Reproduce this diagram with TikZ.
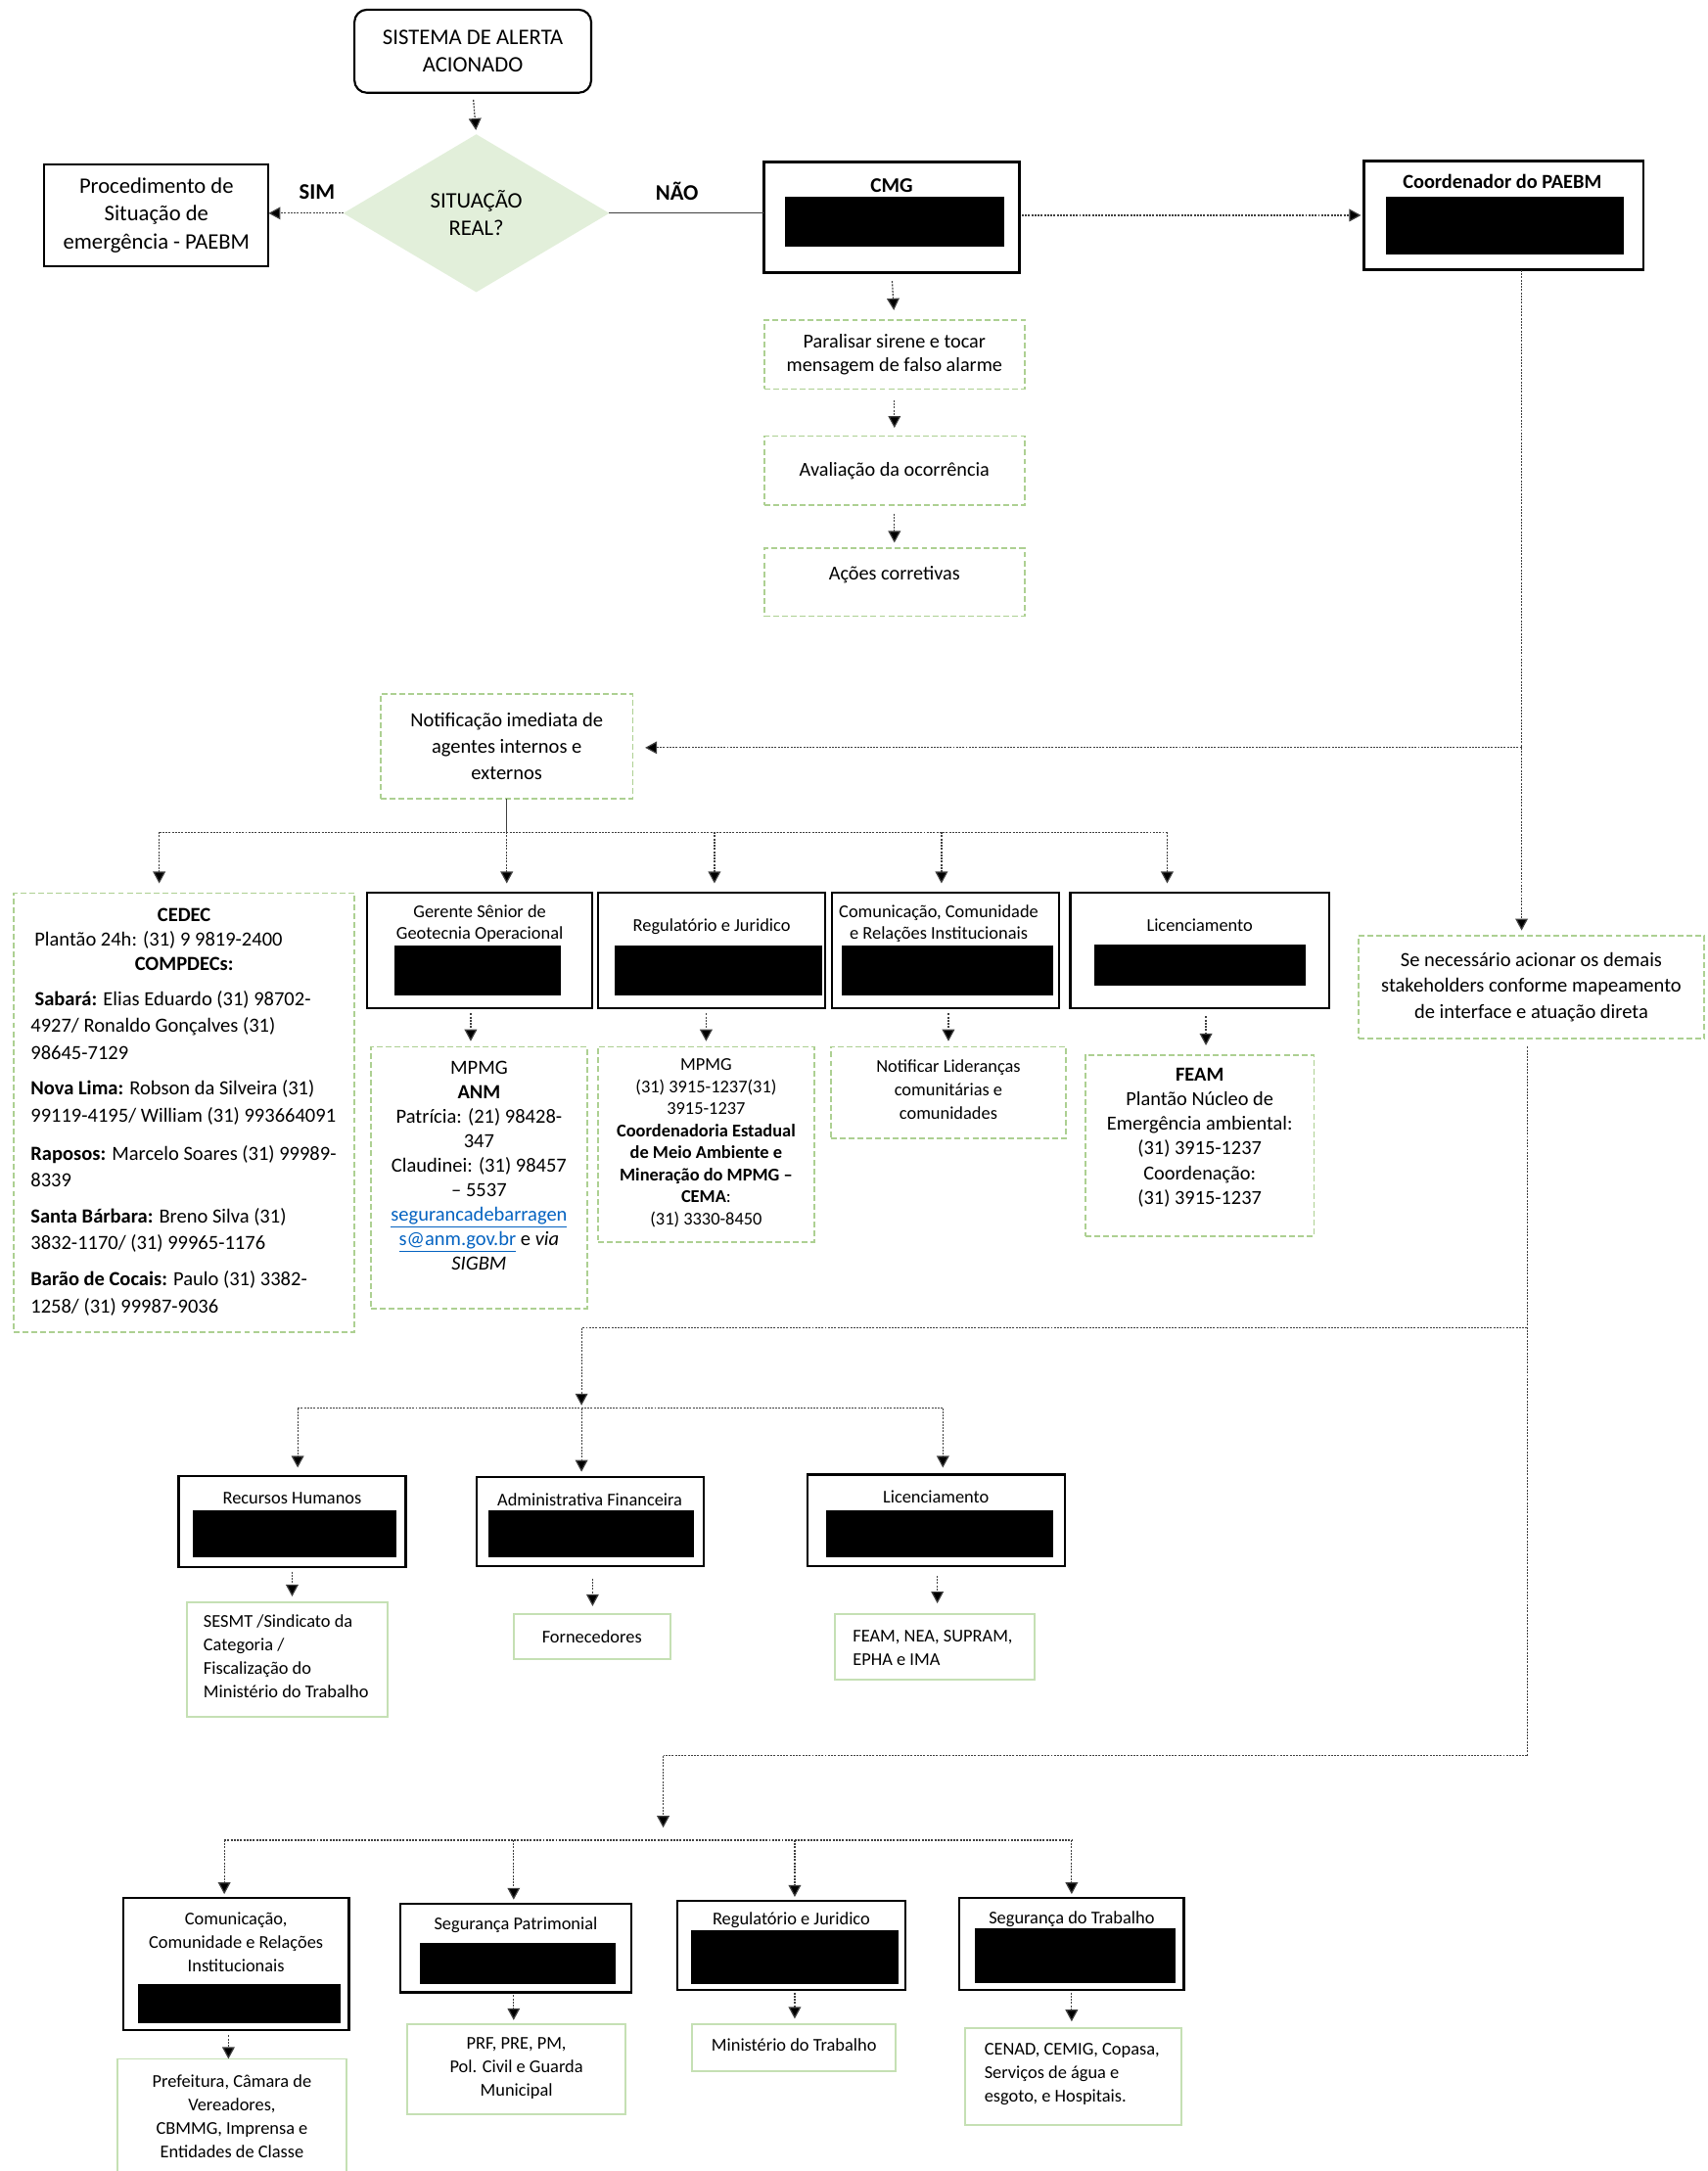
\documentclass[tikz,border=0pt]{standalone}
\usepackage{fontspec}
\setmainfont{Carlito}
\usetikzlibrary{arrows.meta,shapes.geometric,calc}
\definecolor{gdash}{HTML}{ADD092}
\definecolor{gsol}{HTML}{C5E0B4}
\definecolor{dfill}{HTML}{E2EFDA}
\definecolor{linkblue}{HTML}{0563C1}
\definecolor{conncol}{HTML}{404040}
\newcommand{\fsz}[2]{\fontsize{#1}{#2}\selectfont}
\begin{document}
\begin{tikzpicture}[x=1pt,y=-1pt,
 every node/.style={inner sep=0pt, outer sep=0pt},
 blk/.style={draw=black, line width=1.5pt},
 blkthick/.style={draw=black, line width=2pt},
 gbox/.style={draw=gdash, line width=1.2pt, dash pattern=on 4.2pt off 2.2pt},
 gsbox/.style={draw=gsol, line width=1.3pt},
 redact/.style={fill=black},
 tA/.style={align=center, font=\fsz{16}{20}},
 tB/.style={align=center, font=\fsz{14.5}{19}},
 tC/.style={align=center, font=\fsz{13}{17}},
 tL/.style={align=left, anchor=west, font=\fsz{13}{17}},
 conn/.style={draw=conncol, line width=0.85pt, dash pattern=on 1.4pt off 0.9pt},
 arr/.style={conn, -{Triangle[length=8.5pt,width=9pt,fill=black]}},
]
\useasboundingbox (0,0) rectangle (1233,1568);

% ---------- top ----------
\node[blk, rounded corners=9pt, minimum width=171pt, minimum height=60pt, tA] (sis) at (341.5,37) {SISTEMA DE ALERTA\\ACIONADO};
\node[diamond, fill=dfill, minimum width=192pt, minimum height=114pt, tA] (dia) at (344,154) {SITUAÇÃO\\REAL?};
\node[blk, minimum width=162pt, minimum height=73pt, tA] (proc) at (113,155.5) {Procedimento de\\Situação de\\emergência - PAEBM};
\node[font=\fsz{16}{20}\bfseries] (sim) at (229,139) {SIM};
\node[font=\fsz{16}{20}\bfseries] (nao) at (489,138) {NÃO};

\node[blkthick, minimum width=184pt, minimum height=80pt] (cmg) at (644,157) {};
\node[font=\fsz{15}{18}\bfseries] (cmgt) at (644,134) {CMG};
\node[redact, minimum width=158pt, minimum height=36pt] (cmgr) at (646,160) {};

\node[blkthick, minimum width=202pt, minimum height=79pt] (coord) at (1086,155.5) {};
\node[font=\fsz{14.4}{18}\bfseries] (coordt) at (1085,131) {Coordenador do PAEBM};
\node[redact, minimum width=172pt, minimum height=42pt] (coordr) at (1087,163) {};

\node[gbox, minimum width=188pt, minimum height=50pt, font=\fsz{14.3}{17}, align=center] (par) at (646,256) {Paralisar sirene e tocar\\mensagem de falso alarme};
\node[gbox, minimum width=188pt, minimum height=50pt, font=\fsz{14.3}{17}] (ava) at (646,340) {Avaliação da ocorrência};
\node[gbox, minimum width=188pt, minimum height=49pt] (aco) at (646,420.5) {};
\node[font=\fsz{14.3}{17}] (acot) at (646,415) {Ações corretivas};

\draw[arr, shorten <=5pt, shorten >=3pt] (sis.south) -- (dia.north);
\draw[arr] (dia.west) -- (dia.west -| proc.east);
\draw[line width=0.8pt, draw=conncol] (dia.east) -- (dia.east -| cmg.west);
\draw[arr, shorten <=2pt, shorten >=2pt] (cmg.east |- coord.west) -- (coord.west);
\draw[arr, shorten <=6pt, shorten >=7pt] (cmg.south) -- (par.north);
\draw[arr, shorten <=8pt, shorten >=6pt] (par.south) -- (ava.north);
\draw[arr, shorten <=6pt, shorten >=4pt] (ava.south) -- (aco.north);

% ---------- notification ----------
\node[gbox, minimum width=182pt, minimum height=76pt, tB] (notif) at (366,539) {Notificação imediata de\\agentes internos e\\externos};
\node[gbox, minimum width=250pt, minimum height=74pt, tB] (sen) at (1106,713) {Se necessário acionar os demais\\stakeholders conforme mapeamento\\de interface e atuação direta};

\coordinate (c1) at (1099,540);
\draw[conn] (coord.south -| c1) -- (c1);
\draw[arr, shorten >=9pt] (c1) -- (c1 -| notif.east);
\draw[arr, shorten >=4pt] (c1) -- (c1 |- sen.north);

% ---------- middle row ----------
\node[gbox, minimum width=246pt, minimum height=317pt] (cedec) at (133,803.5) {};
\node[font=\fsz{14.5}{17.5}\bfseries] (cedA) at (133,661) {CEDEC};
\node[font=\fsz{14.5}{17.5}, anchor=west] (cedB) at (25,679) {Plantão 24h: (31) 9 9819-2400};
\node[font=\fsz{14.5}{17.5}\bfseries] (cedC) at (133,696) {COMPDECs:};
\begin{scope}[every node/.style={inner sep=0pt, anchor=west, align=left, font=\fsz{14.5}{19.5}}]
\node (cp1) at (22,740.5) {\hspace{3pt}\textbf{Sabará:} Elias Eduardo (31) 98702-\\4927/ Ronaldo Gonçalves (31)\\98645-7129};
\node (cp2) at (22,796.5) {\textbf{Nova Lima:} Robson da Silveira (31)\\99119-4195/ William (31) 993664091};
\node (cp3) at (22,842.5) {\textbf{Raposos:} Marcelo Soares (31) 99989-\\8339};
\node (cp4) at (22,888.5) {\textbf{Santa Bárbara:} Breno Silva (31)\\3832-1170/ (31) 99965-1176};
\node (cp5) at (22,934) {\textbf{Barão de Cocais:} Paulo (31) 3382-\\1258/ (31) 99987-9036};
\end{scope}

\node[blk, minimum width=163pt, minimum height=83pt] (ger) at (346.5,686.5) {};
\node[tC, font=\fsz{13}{16}] (gert) at (346.5,667) {Gerente Sênior de\\Geotecnia Operacional};
\node[redact, minimum width=120pt, minimum height=36pt] (gerr) at (345,701) {};

\node[blk, minimum width=164pt, minimum height=83pt] (reg) at (514,686.5) {};
\node[tC] (regt) at (514,669) {Regulatório e Juridico};
\node[redact, minimum width=150pt, minimum height=36pt] (regr) at (519,701) {};

\node[blk, minimum width=164pt, minimum height=83pt] (com) at (683,686.5) {};
\node[tC, font=\fsz{13}{16}] (comt) at (678,667) {Comunicação, Comunidade\\e Relações Institucionais};
\node[redact, minimum width=153pt, minimum height=36pt] (comr) at (684.5,701) {};

\node[blk, minimum width=187pt, minimum height=83pt] (lic) at (866.5,686.5) {};
\node[tC] (lict) at (866.5,668) {Licenciamento};
\node[redact, minimum width=153pt, minimum height=30pt] (licr) at (866.5,697) {};

\coordinate (n0) at (366,601);
\coordinate (d1) at (115,601);
\coordinate (d3) at (516,601);
\coordinate (d4) at (680,601);
\coordinate (d5) at (843,601);
\draw[line width=0.8pt, draw=conncol] (notif.south) -- (n0);
\draw[conn] (d1) -- (d5);
\draw[arr, shorten >=7pt] (d1) -- (d1 |- cedec.north);
\draw[arr, shorten >=7pt] (n0) -- (n0 |- ger.north);
\draw[arr, shorten >=7pt] (d3) -- (d3 |- reg.north);
\draw[arr, shorten >=7pt] (d4) -- (d4 |- com.north);
\draw[arr, shorten >=7pt] (d5) -- (d5 |- lic.north);

% children of middle row
\node[gbox, minimum width=156pt, minimum height=189pt] (mp) at (346,850.5) {};
\node[tB, font=\fsz{14.5}{17.7}] (mpt) at (346,842) {MPMG\\\textbf{ANM}\\Patrícia: (21) 98428-\\347\\Claudinei: (31) 98457\\– 5537\\{\color{linkblue}\underline{segurancadebarragen}}\\{\color{linkblue}\underline{s@anm.gov.br}} e \textit{via}\\\textit{SIGBM}};

\node[gbox, minimum width=156pt, minimum height=141pt] (rjc) at (510,826.5) {};
\node[tC, font=\fsz{13}{15.9}] (rjct) at (510,825.5) {MPMG\\(31) 3915-1237(31)\\3915-1237\\\textbf{Coordenadoria Estadual}\\\textbf{de Meio Ambiente e}\\\textbf{Mineração do MPMG –}\\\textbf{CEMA}:\\(31) 3330-8450};

\node[gbox, minimum width=170pt, minimum height=66pt] (comc) at (685,789) {};
\node[tC] (comct) at (685,787) {Notificar Lideranças\\comunitárias e\\comunidades};

\node[gbox, minimum width=165pt, minimum height=131pt] (feam) at (866.5,827.5) {};
\node[tB, font=\fsz{14.4}{17.8}] (feamt) at (866.5,821.5) {\textbf{FEAM}\\Plantão Núcleo de\\Emergência ambiental:\\(31) 3915-1237\\Coordenação:\\(31) 3915-1237};

\draw[arr, shorten <=4pt, shorten >=4pt] (ger.south -| 340,0) -- (mp.north -| 340,0);
\draw[arr, shorten <=4pt, shorten >=4pt] (reg.south -| rjc.north) -- (rjc.north);
\draw[arr, shorten <=4pt, shorten >=4pt] (com.south -| comc.north) -- (comc.north);
\draw[arr, shorten <=6pt, shorten >=7pt] (lic.south -| 871,0) -- (feam.north -| 871,0);

% ---------- second group ----------
\coordinate (s1) at (1103,959);
\coordinate (s2) at (1103,1268);
\draw[conn, shorten <=6pt] (sen.south -| s1) -- (s2);
\coordinate (b1) at (420,959);
\coordinate (e0) at (420,1017);
\coordinate (e1) at (215,1017);
\coordinate (e3) at (681,1017);
\draw[conn] (s1) -- (b1);
\draw[arr, shorten >=2pt] (b1) -- (e0);
\draw[conn] (e1) -- (e3);

\node[blk, minimum width=164pt, minimum height=66pt] (rh) at (211,1099) {};
\node[tC] (rht) at (211,1082) {Recursos Humanos};
\node[redact, minimum width=147pt, minimum height=34pt] (rhr) at (212.5,1108) {};

\node[blk, minimum width=164pt, minimum height=64pt] (adm) at (426,1099) {};
\node[tC] (admt) at (426,1083) {Administrativa Financeira};
\node[redact, minimum width=148pt, minimum height=34pt] (admr) at (427,1108) {};

\node[blk, minimum width=186pt, minimum height=66pt] (lic2) at (676,1098) {};
\node[tC] (lic2t) at (676,1081) {Licenciamento};
\node[redact, minimum width=164pt, minimum height=34pt] (lic2r) at (679,1108) {};

\draw[arr, shorten >=6pt] (e1) -- (e1 |- rh.north);
\draw[arr, shorten >=4pt] (e0) -- (e0 |- adm.north);
\draw[arr, shorten >=5pt] (e3) -- (e3 |- lic2.north);

\node[gsbox, minimum width=145pt, minimum height=83pt] (rhc) at (207.5,1198.5) {};
\node[tL] (rhct) at (147,1196.5) {SESMT /Sindicato da\\Categoria /\\Fiscalização do\\Ministério do Trabalho};
\node[gsbox, minimum width=113pt, minimum height=32pt, tC] (admc) at (427.5,1182) {Fornecedores};
\node[gsbox, minimum width=144pt, minimum height=47pt] (lic2c) at (675,1189.5) {};
\node[tL] (lic2ct) at (616,1190.5) {FEAM, NEA, SUPRAM,\\EPHA e IMA};

\draw[arr, shorten <=3pt, shorten >=4pt] (rh.south -| 211,0) -- (rhc.north -| 211,0);
\draw[arr, shorten <=9pt, shorten >=6pt] (adm.south -| 428,0) -- (admc.north -| 428,0);
\draw[arr, shorten <=7pt, shorten >=8pt] (lic2.south -| 677,0) -- (lic2c.north -| 677,0);

% ---------- third group ----------
\coordinate (b2) at (479,1268);
\coordinate (f0) at (479,1329);
\coordinate (f1) at (162,1329);
\coordinate (f2) at (371,1329);
\coordinate (f3) at (574,1329);
\coordinate (f4) at (774,1329);
\draw[conn] (s2) -- (b2);
\draw[arr, shorten >=9pt] (b2) -- (f0);
\draw[conn] (f1) -- (f4);

\node[blk, minimum width=163pt, minimum height=95pt] (com3) at (170.5,1418.5) {};
\node[tC] (com3t) at (170.5,1403) {Comunicação,\\Comunidade e Relações\\Institucionais};
\node[redact, minimum width=146pt, minimum height=28pt] (com3r) at (173,1447) {};

\node[blk, minimum width=167pt, minimum height=64pt] (segp) at (372.5,1407) {};
\node[tC] (segpt) at (372.5,1390) {Segurança Patrimonial};
\node[redact, minimum width=142pt, minimum height=30pt] (segpr) at (374,1418) {};

\node[blk, minimum width=165pt, minimum height=64pt] (reg3) at (571.5,1405) {};
\node[tC] (reg3t) at (571.5,1387) {Regulatório e Juridico};
\node[redact, minimum width=150pt, minimum height=39pt] (reg3r) at (574,1413.5) {};

\node[blk, minimum width=162pt, minimum height=66pt] (segt) at (774,1404) {};
\node[tC] (segtt) at (774,1386) {Segurança do Trabalho};
\node[redact, minimum width=145pt, minimum height=39pt] (segtr) at (776.5,1412.5) {};

\draw[arr, shorten >=3pt] (f1) -- (f1 |- com3.north);
\draw[arr, shorten >=3pt] (f2) -- (f2 |- segp.north);
\draw[arr, shorten >=3pt] (f3) -- (f3 |- reg3.north);
\draw[arr, shorten >=3pt] (f4) -- (f4 |- segt.north);

\node[gsbox, minimum width=165pt, minimum height=85pt] (com3c) at (167.5,1529.5) {};
\node[tC] (com3ct) at (167.5,1528.5) {Prefeitura, Câmara de\\Vereadores,\\CBMMG, Imprensa e\\Entidades de Classe};
\node[gsbox, minimum width=158pt, minimum height=65pt] (segpc) at (373,1494.5) {};
\node[tC] (segpct) at (373,1493.5) {PRF, PRE, PM,\\Pol. Civil e Guarda\\Municipal};
\node[gsbox, minimum width=147pt, minimum height=34pt] (reg3c) at (573.5,1479) {};
\node[tC] (reg3ct) at (573.5,1477) {Ministério do Trabalho};
\node[gsbox, minimum width=156pt, minimum height=70pt] (segtc) at (775,1500) {};
\node[tL] (segtct) at (711,1498) {CENAD, CEMIG, Copasa,\\Serviços de água e\\esgoto, e Hospitais.};

\draw[arr, shorten <=4pt] (com3.south -| 165,0) -- (com3c.north -| 165,0);
\draw[arr, shorten <=2pt, shorten >=3pt] (segp.south -| 371,0) -- (segpc.north -| 371,0);
\draw[arr, shorten <=2pt, shorten >=4pt] (reg3.south -| 574,0) -- (reg3c.north -| 574,0);
\draw[arr, shorten <=2pt, shorten >=5pt] (segt.south -| 774,0) -- (segtc.north -| 774,0);

\end{tikzpicture}
\end{document}
